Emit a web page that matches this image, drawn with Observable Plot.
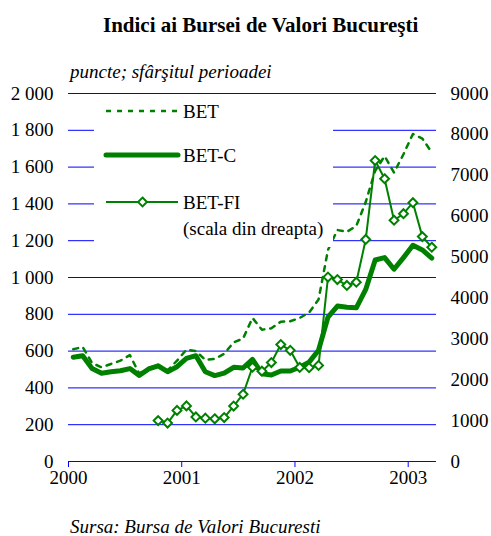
<!DOCTYPE html>
<html><head><meta charset="utf-8">
<script src="https://cdn.jsdelivr.net/npm/d3@7"></script>
<script src="https://cdn.jsdelivr.net/npm/@observablehq/plot@0.6"></script>
<style>
body{margin:0;background:#fff;font-family:"Liberation Serif","Times New Roman",serif;}
#wrap{position:relative;width:491px;height:536px;overflow:hidden;background:#fff;}
.t{position:absolute;white-space:nowrap;color:#000;line-height:1;}
</style></head><body>
<div id="wrap">
<div id="chart" style="position:absolute;left:0;top:0"></div>
<div class="t" style="left:103px;top:15px;font-size:21px;font-weight:bold">Indici ai Bursei de Valori Bucureşti</div>
<div class="t" style="left:70px;top:62px;font-size:19px;font-style:italic">puncte; sfârşitul perioadei</div>
<div class="t" style="left:70px;top:517px;font-size:19px;font-style:italic">Sursa: Bursa de Valori Bucuresti</div>
<div id="legend" style="position:absolute;left:94px;top:97px;width:239px;height:150px;background:#fff"></div>
</div>
<script>
// Monthly values, Jan 2000 – Mar 2003 (end of period)
const BET = [610,622,535,512,530,548,578,478,508,525,495,548,
             608,600,552,558,585,648,668,780,716,724,760,762,
             780,810,880,1150,1258,1248,1280,1410,1580,1660,1570,1670,
             1780,1755,1680];
const BETC = [567,575,505,480,488,493,505,468,503,520,488,515,
              560,575,488,467,480,512,508,555,477,470,492,492,
              512,540,605,785,845,838,835,935,1095,1108,1045,1108,
              1175,1150,1105];
const BETFI = [null,null,null,null,null,null,null,null,null,1000,940,1250,
               1360,1090,1060,1045,1075,1355,1645,2307,2210,2420,2860,2720,
               2300,2295,2350,4510,4450,4305,4385,5430,7360,6915,5900,6060,
               6330,5500,5240];
const years = ["2000","2001","2002","2003"];
const leftTicks = [0,200,400,600,800,1000,1200,1400,1600,1800,2000];
const rightTicks = [0,1000,2000,3000,4000,5000,6000,7000,8000,9000];
const legendLabels = ["BET","BET-C","BET-FI"];
const legendNote = "(scala din dreapta)";

const green = "#008000", blue = "#0000ff";
const RATIO = 2000/9000;
const data = BETC.map((v,i)=>({x:i+0.5, bet:BET[i], betc:v, fi:BETFI[i]}));
const fiData = data.filter(d=>d.fi!=null);
const fmt = d => d >= 1000 ? String(d).replace(/(\d)(\d{3})$/, "$1 $2") : String(d);

const chart = Plot.plot({
  width:491, height:536, marginLeft:68, marginRight:55, marginTop:93, marginBottom:75,
  style:{fontFamily:"'Liberation Serif','Times New Roman',serif", fontSize:"19px", background:"transparent", color:"#000"},
  x:{domain:[0,39], label:null},
  y:{domain:[0,2000], label:null},
  marks:[
    Plot.ruleY(leftTicks, {stroke:blue, strokeWidth:1}),
    Plot.axisY({ticks:leftTicks, tickSize:0, tickPadding:15, tickFormat:fmt, label:null, fill:"#000"}),
    Plot.axisY({anchor:"right", ticks:rightTicks.map(v=>v*RATIO), tickSize:0, tickPadding:14,
                tickFormat:d=>String(Math.round(d/RATIO)), label:null, fill:"#000"}),
    Plot.axisX({ticks:years.map((_,i)=>i*12), tickFormat:d=>years[Math.round(d/12)], tickSize:6,
                stroke:blue, fill:"#000", label:null}),
    Plot.line(data, {x:"x", y:"bet", stroke:green, strokeWidth:2.5, strokeDasharray:"5,6"}),
    Plot.line(data, {x:"x", y:"betc", stroke:green, strokeWidth:5, strokeLinejoin:"round"}),
    Plot.line(fiData, {x:"x", y:d=>d.fi*RATIO, stroke:green, strokeWidth:2}),
    Plot.dot(fiData, {x:"x", y:d=>d.fi*RATIO, symbol:"diamond2", r:4, stroke:green, strokeWidth:2, fill:"white"})
  ]
});
document.getElementById("chart").appendChild(chart);

// Legend
const lg = d3.select("#legend").append("svg").attr("width",239).attr("height",150)
  .style("font-family","'Liberation Serif','Times New Roman',serif").style("font-size","19px");
const rows = [14,58,105];
lg.append("line").attr("x1",12).attr("x2",84).attr("y1",rows[0]).attr("y2",rows[0])
  .attr("stroke",green).attr("stroke-width",2.5).attr("stroke-dasharray","5,6");
lg.append("line").attr("x1",12).attr("x2",84).attr("y1",rows[1]).attr("y2",rows[1])
  .attr("stroke",green).attr("stroke-width",5).attr("stroke-linecap","round");
lg.append("line").attr("x1",12).attr("x2",84).attr("y1",rows[2]).attr("y2",rows[2])
  .attr("stroke",green).attr("stroke-width",2);
lg.append("path").attr("d",d3.symbol(d3.symbolDiamond2, 16*Math.PI)()).attr("transform",`translate(48.5,${rows[2]})`)
  .attr("fill","white").attr("stroke",green).attr("stroke-width",2);
legendLabels.forEach((t,i)=>{
  lg.append("text").attr("x",89).attr("y",rows[i]).attr("dy","0.35em").text(t);
});
lg.append("text").attr("x",89).attr("y",131).attr("dy","0.35em").text(legendNote);
</script>
</body></html>
